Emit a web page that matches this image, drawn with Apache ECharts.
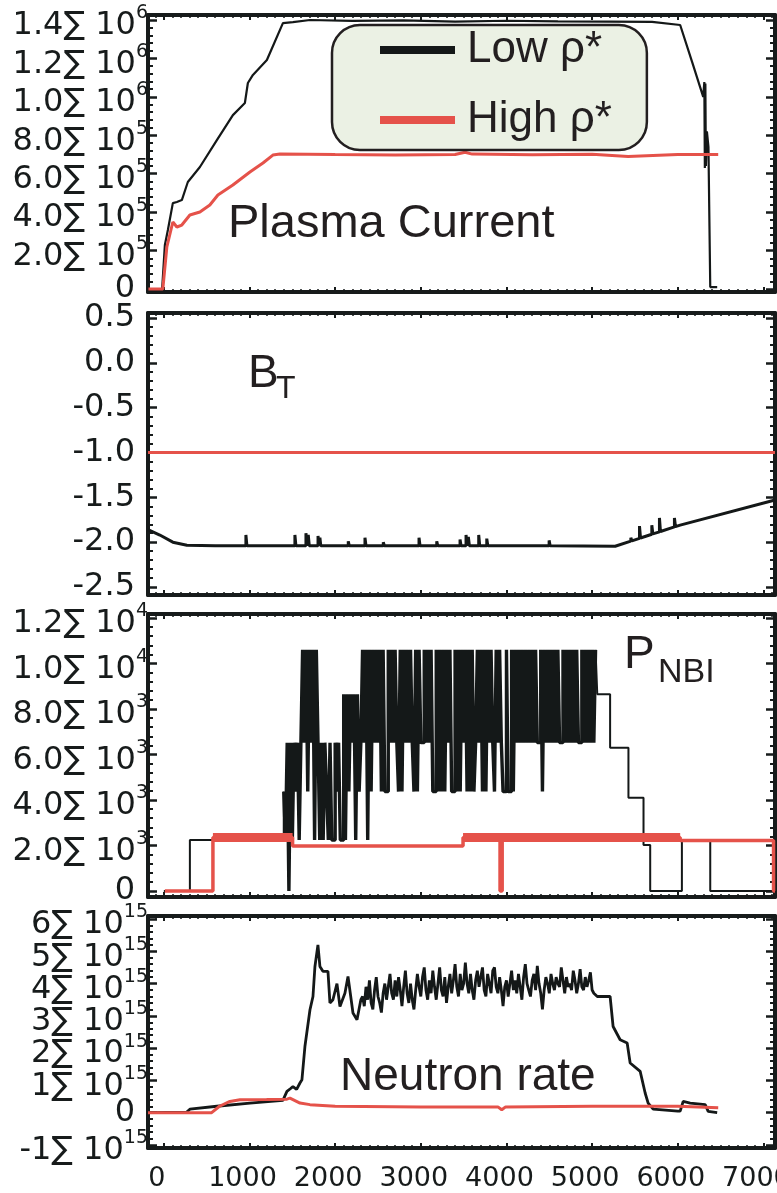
<!DOCTYPE html>
<html><head><meta charset="utf-8">
<script src="https://cdn.jsdelivr.net/npm/echarts@6/dist/echarts.min.js"></script>
<style>html,body{margin:0;padding:0;background:#fff}#c{width:777px;height:1193px}</style>
</head><body><div id="c"></div>
<script>
// ---------------- DATA ----------------
const seriesNames = ['Low ρ*', 'High ρ*'];
const xTickLabels = ['0','1000','2000','3000','4000','5000','6000','7000'];

// Plasma current (A)
const ipLowT = [-185,-20,12,47,105,152,210,280,421,619,806,946,981,1040,1203,1390,1507,1706,2200,2800,3400,4000,4600,5200,5700,6028,6168,6297,6310,6316,6322,6328,6340,6358,6379,6460];
const ipLowV = [0,0,229000,307000,447000,453000,463000,557000,635000,775000,905000,968000,1072000,1114000,1192000,1384000,1389000,1400000,1395000,1398000,1392000,1396000,1393000,1392000,1390000,1374000,1181000,1000000,1077000,630000,1070000,640000,820000,740000,10000,10000];
const ipHighT = [-180,-12,35,105,152,210,304,421,537,631,806,1005,1157,1273,1355,2000,2700,3400,3516,3600,4300,5000,5420,5440,6000,6472];
const ipHighV = [0,0,218600,348700,322600,333000,385000,400700,437000,489000,541000,609000,656000,697000,702500,700000,698000,700000,712000,702000,699000,701000,690000,700000,700000,700000];

// Toroidal field B_T
const btLowT = [-185,-47,105,269,600,
 958,958,970,970, 1530,1530,1542,1542, 1659,1659,1671,1671, 1686,1686,1698,1698,
 1800,1800,1810,1810, 1822,1822,1832,1832, 2153,2153,2165,2165, 2348,2348,2360,2360,
 2562,2562,2574,2574, 2979,2979,2991,2991, 3186,3186,3198,3198, 3458,3458,3470,3470,
 3528,3528,3540,3540, 3555,3555,3567,3567, 3676,3676,3688,3688, 3770,3770,3782,3782,
 4498,4498,4510,4510,
 5269,
 5452,5452,5464,5464, 5553,5553,5565,5565, 5697,5697,5709,5709, 5786,5786,5798,5798, 5961,5961,5973,5973,
 6028,7135];
const btLowV = [-1.86,-1.92,-2.0,-2.035,-2.04,
 -2.04,-1.92,-1.92,-2.04, -2.04,-1.92,-1.92,-2.04, -2.04,-1.9,-1.9,-2.04, -2.04,-1.92,-1.92,-2.04,
 -2.04,-1.93,-1.93,-2.04, -2.04,-1.95,-1.95,-2.04, -2.04,-1.99,-1.99,-2.04, -2.04,-1.95,-1.95,-2.04,
 -2.04,-2.0,-2.0,-2.04, -2.04,-1.95,-1.95,-2.04, -2.04,-1.99,-1.99,-2.04, -2.04,-1.97,-1.97,-2.04,
 -2.04,-1.92,-1.92,-2.04, -2.04,-1.94,-1.94,-2.04, -2.04,-1.92,-1.92,-2.04, -2.04,-1.96,-1.96,-2.04,
 -2.04,-1.98,-1.98,-2.04,
 -2.045,
 -1.988,-1.95,-1.95,-1.985, -1.957,-1.82,-1.82,-1.953, -1.912,-1.81,-1.81,-1.908, -1.885,-1.73,-1.73,-1.881, -1.83,-1.73,-1.73,-1.826,
 -1.81,-1.53];
const btHighT = [-185,1000,2000,3000,4000,5000,6000,7135];
const btHighV = [-1.0,-1.0,-1.0,-1.0,-1.0,-1.0,-1.0,-1.0];

// NBI power - low rho*: step signal, levels coded
const nbiLevelV = [0,2240,4370,6520,8650,10600];
const nbiLowHeadT = [0,304,1400];
const nbiLowHeadV = [0,2240,4370];
const nbiBurstT0 = 1400, nbiBurstDt = 20;
const nbiBurstCode = [
 2,1,3,0,3,1,3,2,3,1,3,
 5,3,5,2,5,3,5,1,5,3,
 1,3,1,3,2,1,3,1,1,3,2,3,1,1,
 4,1,4,2,4,3,4,1,4,2,3,
 5,3,5,1,5,2,5,3,5,3,
 5,2,5,2,2,5,3,5,3,5,
 3,2,5,2,5,3,5,3,5,3,
 2,5,2,5,3,3,5,3,5,3,
 5,2,2,5,2,5,2,5,2,5,
 3,5,2,2,5,2,5,2,5,3,
 5,2,5,2,5,2,3,5,3,5,
 2,5,2,5,3,5,3,2,5,3,
 5,3,2,2,5,2,2,5,2,5,
 3,5,3,5,3,5,3,5,3,5,
 3,5,3,3,5,2,5,3,5,3,
 5,3,5,3,5,3,3,5,3,5,
 3,5,3,5,3,5,3,3,5,3,
 5,3,5,3,5,3,5];
const nbiLowTailT = [5040,5060,5210,5424,5600,5678,6048,6379,7135];
const nbiLowTailV = [10600,8650,6300,4100,2020,0,2240,0,0];
// high rho*
const nbiHighT = [12,573,573,1503,1503,3493,3493,3925,3925,3950,3950,6028,6028,7118,7118,7135];
const nbiHighV = [0,0,2350,2350,1980,1980,2350,2350,0,0,2350,2350,2220,2220,0,0];
const nbiHighNoisyT1 = [573,1503];
const nbiHighNoisyV1 = [2350,2350];
const nbiHighNoisyT2 = [3493,6028];
const nbiHighNoisyV2 = [2350,2350];

// Neutron rate (units of 1e15 /s)
const nLowRiseT = [-185,268,304,619,1005,1390,1437,1480,1507,1550,1589,1612,1647,1706,1741,1764,1799,1822,1857,1916,1939,1974,2021,2056,2114,2150,2208,2255,2300];
const nLowRiseV = [0,0.02,0.11,0.2,0.3,0.38,0.66,0.75,0.81,0.72,0.92,1.02,2.05,3.19,3.6,4.53,5.2,4.53,4.38,4.38,3.4,3.5,4.0,3.29,3.7,4.22,3.09,2.88,3.5];
const nLowFlatT0 = 2320, nLowFlatDt = 20;
const nLowFlatV = [
 3.6,3.3,3.9,3.5,4.1,3.4,3.2,3.8,4.2,3.6,
 3.4,3.1,3.7,4.0,3.5,3.9,4.3,3.7,3.5,4.1,
 3.6,4.2,3.8,3.3,3.9,4.4,3.7,3.4,4.0,3.5,
 3.2,3.8,4.3,3.9,3.6,4.2,4.5,3.8,3.5,4.1,
 3.7,4.4,3.9,3.5,4.0,4.5,3.8,3.6,4.2,3.4,
 3.9,4.3,3.7,4.1,4.6,3.9,3.6,4.3,3.8,4.0,
 4.65,4.0,3.7,4.3,3.8,3.5,4.1,4.4,3.9,4.2,
 4.5,3.8,3.6,4.3,4.0,3.7,4.4,4.5,3.9,3.7,
 4.2,3.8,3.3,3.9,4.1,3.6,4.0,4.4,3.8,4.1,
 3.7,4.3,3.9,3.5,4.2,4.6,4.0,3.8,3.6,4.1,
 4.3,3.8,4.55,4.0,3.7,3.2,3.8,4.2,4.0,3.7,
 4.3,4.0,3.8,4.2,4.0,3.9,4.5,4.1,3.7,4.2,
 3.9,4.0,3.8,4.4,4.1,3.7,4.0,4.45,3.9,3.8,
 4.2,3.9,4.1,4.35,3.8,3.7,3.65,3.6];
const nLowFallT = [5210,5245,5327,5409,5444,5561,5619,5654,5713,6000,6028,6063,6145,6320,6355,6460];
const nLowFallV = [3.6,2.67,2.26,2.16,1.54,1.28,0.61,0.3,0.11,0.05,0.05,0.35,0.3,0.25,0.04,0.0];
const nHighT = [-185,558,650,771,888,1200,1437,1472,1589,1706,2000,3000,3900,3945,3990,5000,6000,6472];
const nHighV = [0,0,0.2,0.35,0.4,0.41,0.42,0.45,0.3,0.25,0.2,0.18,0.18,0.09,0.18,0.2,0.2,0.15];

// ---------------- BUILD ----------------
const INK = '#171b1b', BLACK = '#141818', RED = '#e5524a', TXT = '#231f20';
const zip = (t, v) => t.map((x, k) => [x, v[k]]);
const nbiBurstData = nbiBurstCode.map((c, k) => [nbiBurstT0 + k * nbiBurstDt, nbiLevelV[c]]);
const nLowData = zip(nLowRiseT, nLowRiseV)
  .concat(nLowFlatV.map((v, k) => [nLowFlatT0 + k * nLowFlatDt, v]))
  .concat(zip(nLowFallT, nLowFallV));

const X_MIN = -185, X_MAX = 7135;
const grids = [
  {left:148, right:2, top:15, height:277},
  {left:148, right:2, top:313, height:282},
  {left:148, right:2, top:614, height:283},
  {left:148, right:2, top:916, height:232}
].map(g => Object.assign(g, {containLabel:false, outerBoundsMode:'none'}));
const yRanges = [[-15600,1426000,200000],[-2.589,0.556,0.5],[-264,12176,2000],[-1.093,6.093,1]];

const LBL = 'DejaVu Sans';
const rich = {
  m: {fontFamily:LBL, fontSize:32, lineHeight:32, color:INK, padding:[12,0,0,0]},
  s: {fontFamily:LBL, fontSize:19, lineHeight:32, color:INK, verticalAlign:'top'},
  p: {fontFamily:LBL, fontSize:32, lineHeight:32, color:INK},
  sp: {fontFamily:LBL, fontSize:10, lineHeight:32, width:13}
};
const sci = (mant, exp) => `{m|${mant}\u2211 10}{s|${exp}}`;
const plain = (s) => `{p|${s}}{sp| }`;
const fmts = [
  v => v === 0 ? plain('0') : (v < 1e6 ? sci((v/1e5).toFixed(1), 5) : sci((v/1e6).toFixed(1), 6)),
  v => plain(v.toFixed(1)),
  v => v === 0 ? plain('0') : (v < 1e4 ? sci((v/1e3).toFixed(1), 3) : sci((v/1e4).toFixed(1), 4)),
  v => Math.round(v) === 0 ? plain('0') : sci(Math.round(v), 15)
];

const xAxes = [], yAxes = [];
for (let i = 0; i < 4; i++) {
  ['bottom','top'].forEach(pos => {
    const showLab = (i === 3 && pos === 'bottom');
    xAxes.push({
      type:'value', gridIndex:i, position:pos, min:X_MIN, max:X_MAX,
      minInterval:1000, maxInterval:1000,
      axisLine:{show:true, onZero:false, lineStyle:{color:INK, width:4}},
      axisTick:{show:true, inside:true, length:5, lineStyle:{color:INK, width:2}},
      minorTick:{show:true, splitNumber:10, length:3, lineStyle:{color:INK, width:1.5}},
      splitLine:{show:false},
      axisLabel:{show:showLab, showMinLabel:false, showMaxLabel:false, margin:17,
        fontFamily:LBL, fontSize:27, lineHeight:27, color:INK, padding:[0,14,0,0],
        formatter: v => { const k = xTickLabels.indexOf(String(Math.round(v))); return k >= 0 ? xTickLabels[k] : ''; }}
    });
  });
  ['left','right'].forEach(pos => {
    const r = yRanges[i];
    yAxes.push({
      type:'value', gridIndex:i, position:pos, min:r[0], max:r[1],
      minInterval:r[2], maxInterval:r[2],
      axisLine:{show:true, onZero:false, lineStyle:{color:INK, width:4}},
      axisTick:{show:true, inside:true, length:9, lineStyle:{color:INK, width:2.5}},
      minorTick:{show:true, splitNumber:5, length:5, lineStyle:{color:INK, width:2}},
      splitLine:{show:false},
      axisLabel:{show:pos === 'left', showMinLabel:false, showMaxLabel:false, margin:0,
        formatter:fmts[i], rich:rich}
    });
  });
}

const line = (name, grid, data, color, width, extra) => Object.assign({
  type:'line', name, xAxisIndex:2*grid, yAxisIndex:2*grid, data,
  symbol:'none', showSymbol:false, silent:true, animation:false, clip:true,
  lineStyle:{color, width}, itemStyle:{color}
}, extra || {});

const series = [
  line(seriesNames[0], 0, zip(ipLowT, ipLowV), BLACK, 2.2),
  line(seriesNames[1], 0, zip(ipHighT, ipHighV), RED, 3),
  line(seriesNames[0], 1, zip(btLowT, btLowV), BLACK, 3),
  line(seriesNames[1], 1, zip(btHighT, btHighV), RED, 3),
  line(seriesNames[0], 2, zip(nbiLowHeadT, nbiLowHeadV), BLACK, 2, {step:'end'}),
  line(seriesNames[0], 2, nbiBurstData, BLACK, 3.4, {step:'end'}),
  line(seriesNames[0], 2, zip(nbiLowTailT, nbiLowTailV), BLACK, 2, {step:'end'}),
  line(seriesNames[1], 2, zip(nbiHighT, nbiHighV), RED, 3.5),
  line(seriesNames[1], 2, zip(nbiHighNoisyT1, nbiHighNoisyV1), RED, 9),
  line(seriesNames[1], 2, zip(nbiHighNoisyT2, nbiHighNoisyV2), RED, 9),
  line(seriesNames[0], 3, nLowData, BLACK, 2.8),
  line(seriesNames[1], 3, zip(nHighT, nHighV), RED, 3)
];

const TF = '"Liberation Sans", Arial, sans-serif';
const txt = (s, x, y, size) => ({type:'text', x, y, z:100, silent:true,
  style:{text:s, font:`${size}px ${TF}`, fill:TXT, textAlign:'left', textVerticalAlign:'middle'}});

const option = {
  animation:false,
  backgroundColor:'#ffffff',
  grid:grids, xAxis:xAxes, yAxis:yAxes, series,
  legend:{
    left:332, top:25, orient:'vertical', selectedMode:false,
    padding:[3,35,8,48], itemGap:26, itemWidth:75, itemHeight:8,
    backgroundColor:'#ebf1e4', borderColor:TXT, borderWidth:2.5, borderRadius:28,
    textStyle:{fontFamily:TF, fontSize:44, lineHeight:44, color:TXT, padding:[0,0,0,7]},
    data:[{name:seriesNames[0], icon:'rect', itemStyle:{color:BLACK}},
          {name:seriesNames[1], icon:'rect', itemStyle:{color:RED}}]
  },
  graphic:[
    txt('Plasma Current', 228, 224, 47),
    txt('B', 248, 374, 46), txt('T', 276, 389, 32),
    txt('P', 624, 655, 46), txt('NBI', 658, 673, 34),
    txt('Neutron rate', 340, 1077, 46)
  ]
};
const chart = echarts.init(document.getElementById('c'), null, {renderer:'canvas'});
chart.setOption(option);
</script></body></html>
